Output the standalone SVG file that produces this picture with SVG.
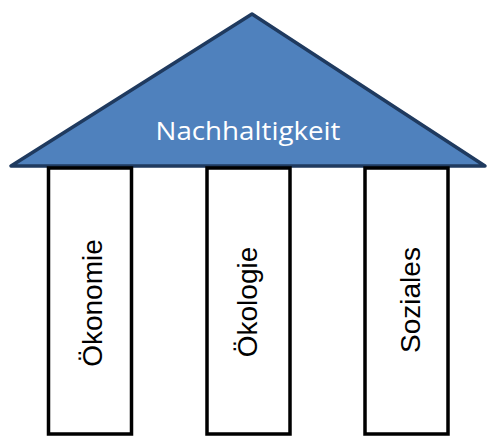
<svg xmlns="http://www.w3.org/2000/svg" width="489" height="436" viewBox="0 0 489 436">
<style>
.pillar{fill:#ffffff;stroke:#000000;stroke-width:3.5}
.plabel{font-family:"Liberation Sans",Arial,sans-serif;font-size:28px;fill:#000000;text-anchor:middle}
.roof{fill:#4f81bd;stroke:#1f3a5f;stroke-width:3.5;stroke-linejoin:round}
.rlabel{font-family:"Open Sans","Noto Sans",sans-serif;font-size:26px;fill:#ffffff;text-anchor:middle}
</style>
<rect width="489" height="436" fill="#ffffff"/>
<g id="roof">
<polygon class="roof" points="252,14 11,166 485,166"/>
<text class="rlabel" x="248" y="140" textLength="185" lengthAdjust="spacingAndGlyphs">Nachhaltigkeit</text>
</g>
<g id="oekonomie">
<rect class="pillar" x="48.5" y="168" width="83" height="266"/>
<text class="plabel" transform="translate(101.5,303) rotate(-90)">Ökonomie</text>
</g>
<g id="oekologie">
<rect class="pillar" x="207" y="168" width="83" height="266"/>
<text class="plabel" transform="translate(256.5,302) rotate(-90)">Ökologie</text>
</g>
<g id="soziales">
<rect class="pillar" x="365" y="168" width="83" height="266"/>
<text class="plabel" transform="translate(420,300) rotate(-90)">Soziales</text>
</g>
<g id="connectors"/>
</svg>
